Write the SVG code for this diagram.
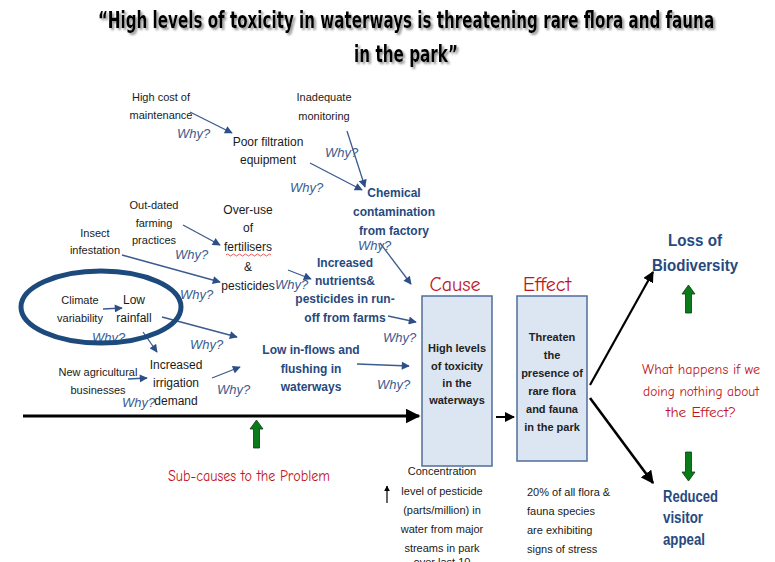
<svg xmlns="http://www.w3.org/2000/svg" width="775" height="562" viewBox="0 0 775 562">
  <style>
    .t { font-family: "Liberation Sans", Arial, sans-serif; font-size: 11px; fill: #1a1a1a; }
    .t13 { font-family: "Liberation Sans", Arial, sans-serif; font-size: 12px; fill: #1a1a1a; }
    .why { font-family: "Liberation Sans", Arial, sans-serif; font-size: 13px; font-style: italic; fill: #3b5b8f; }
    .b { font-family: "Liberation Sans", Arial, sans-serif; font-size: 12px; font-weight: bold; fill: #27497e; }
    .bx { font-family: "Liberation Sans", Arial, sans-serif; font-size: 11px; font-weight: bold; fill: #222; }
    .big { font-family: "Liberation Sans", Arial, sans-serif; font-size: 17px; font-weight: bold; fill: #27497e; }
    .comic { font-family: "Comic Sans MS", "Comic Neue", "DejaVu Sans", sans-serif; }
    .title { font-family: "Comic Sans MS", "DejaVu Sans", sans-serif; font-size: 23px; font-weight: 700; fill: #000; }
    .red { fill: #c0141c; }
    .arr { stroke: #3b5b8f; stroke-width: 1.3; fill: none; marker-end: url(#ab); }
    .blk { stroke: #000; fill: none; marker-end: url(#ak); }
    .box { fill: #dce6f2; stroke: #4f6d99; stroke-width: 1.5; }
    .green { fill: #0a7a1a; stroke: #0b3d0f; stroke-width: 0.8; }
  </style>
  <defs>
    <marker id="ab" viewBox="0 0 10 10" refX="9" refY="5" markerWidth="9" markerHeight="8" markerUnits="userSpaceOnUse" orient="auto">
      <path d="M0,0 L10,5 L0,10 Z" fill="#2d4f86"/>
    </marker>
    <marker id="ak" viewBox="0 0 10 10" refX="9" refY="5" markerWidth="5" markerHeight="5" orient="auto">
      <path d="M0,0 L10,5 L0,10 Z" fill="#000"/>
    </marker>
    <filter id="shadow" filterUnits="userSpaceOnUse" x="0" y="0" width="775" height="80">
      <feDropShadow dx="2" dy="2" stdDeviation="1.2" flood-color="#777" flood-opacity="0.8"/>
    </filter>
  </defs>

  <rect width="775" height="562" fill="#fff"/>

  <!-- heading, narrowed to fit one line -->
  <g id="title" filter="url(#shadow)">
    <text class="title" text-anchor="middle" transform="translate(406,28) scale(0.6,1)" textLength="1027" lengthAdjust="spacingAndGlyphs">“High levels of toxicity in waterways is threatening rare flora and fauna</text>
    <text class="title" text-anchor="middle" transform="translate(406,62) scale(0.6,1)" textLength="173" lengthAdjust="spacingAndGlyphs">in the park”</text>
  </g>

  <!-- connectors -->
  <g id="connectors">
    <line class="arr" x1="190" y1="112" x2="232" y2="133"/>
    <line class="arr" x1="347" y1="131" x2="365" y2="187"/>
    <line class="arr" x1="310" y1="163" x2="362" y2="190"/>
    <line class="arr" x1="380" y1="243" x2="411" y2="284"/>
    <line class="arr" x1="183" y1="225" x2="220" y2="245"/>
    <line class="arr" x1="122" y1="255" x2="220" y2="282"/>
    <line class="arr" x1="288" y1="270" x2="311" y2="279"/>
    <line class="arr" x1="388" y1="316" x2="416" y2="322"/>
    <line class="arr" x1="103" y1="309" x2="122" y2="308"/>
    <line class="arr" x1="162" y1="317" x2="237" y2="337"/>
    <line class="arr" x1="143" y1="332" x2="157" y2="352"/>
    <line class="arr" x1="128" y1="379" x2="147" y2="378"/>
    <line class="arr" x1="212" y1="378" x2="240" y2="367"/>
    <line class="arr" x1="357" y1="364" x2="409" y2="366"/>
    <!-- main spine -->
    <line class="blk" x1="23" y1="416" x2="419" y2="416" stroke-width="3"/>
    <line class="blk" x1="496" y1="417" x2="514" y2="417" stroke-width="2"/>
    <line class="blk" x1="590" y1="385" x2="653" y2="272" stroke-width="2.2"/>
    <line class="blk" x1="590" y1="398" x2="653" y2="483" stroke-width="2.6"/>
    <line class="blk" x1="387" y1="503" x2="387" y2="486" stroke-width="1.2"/>
  </g>

  <!-- why labels -->
  <g id="why-labels" class="why">
    <text x="177" y="138">Why?</text>
    <text x="325" y="157">Why?</text>
    <text x="290" y="192">Why?</text>
    <text x="358" y="250">Why?</text>
    <text x="175" y="259">Why?</text>
    <text x="180" y="299">Why?</text>
    <text x="275" y="289">Why?</text>
    <text x="383" y="342">Why?</text>
    <text x="92" y="342">Why?</text>
    <text x="190" y="349">Why?</text>
    <text x="122" y="407">Why?</text>
    <text x="217" y="394">Why?</text>
    <text x="377" y="389">Why?</text>
  </g>

  <g id="high-cost" class="t" text-anchor="middle">
    <text x="161" y="101">High cost of</text>
    <text x="161" y="119">maintenance</text>
  </g>
  <g id="poor-filtration" class="t13" text-anchor="middle">
    <text x="268" y="146">Poor filtration</text>
    <text x="268" y="164">equipment</text>
  </g>
  <g id="inadequate-monitoring" class="t" text-anchor="middle">
    <text x="324" y="101">Inadequate</text>
    <text x="324" y="120">monitoring</text>
  </g>
  <g id="chemical-contamination" class="b" text-anchor="middle">
    <text x="394" y="197">Chemical</text>
    <text x="394" y="216">contamination</text>
    <text x="394" y="235">from factory</text>
  </g>
  <g id="out-dated" class="t" text-anchor="middle">
    <text x="154" y="209">Out-dated</text>
    <text x="154" y="227">farming</text>
    <text x="154" y="244">practices</text>
  </g>
  <g id="insect" class="t" text-anchor="middle">
    <text x="95" y="237">Insect</text>
    <text x="95" y="254">infestation</text>
  </g>
  <g id="over-use" class="t13" text-anchor="middle">
    <text x="248" y="214">Over-use</text>
    <text x="248" y="232">of</text>
    <text x="248" y="251">fertilisers</text>
    <path d="M226,255 q1.5,-2 3,0 t3,0 t3,0 t3,0 t3,0 t3,0 t3,0 t3,0 t3,0 t3,0 t3,0 t3,0 t3,0 t3,0 t3,0" fill="none" stroke="#e0302c" stroke-width="0.8"/>
    <text x="248" y="271">&amp;</text>
    <text x="248" y="290">pesticides</text>
  </g>
  <g id="increased-nutrients" class="b" text-anchor="middle">
    <text x="345" y="267">Increased</text>
    <text x="345" y="285">nutrients&amp;</text>
    <text x="345" y="303">pesticides in run-</text>
    <text x="345" y="322">off from farms</text>
  </g>

  <!-- highlighted pair -->
  <ellipse id="highlight" cx="101" cy="307" rx="80" ry="36" fill="none" stroke="#1d4a7c" stroke-width="5"/>
  <g id="climate" class="t" text-anchor="middle">
    <text x="80" y="304">Climate</text>
    <text x="80" y="322">variability</text>
  </g>
  <g id="low-rainfall" class="t13" text-anchor="middle">
    <text x="134" y="304">Low</text>
    <text x="134" y="322">rainfall</text>
  </g>
  <g id="new-agri" class="t" text-anchor="middle">
    <text x="98" y="376">New agricultural</text>
    <text x="98" y="394">businesses</text>
  </g>
  <g id="irrigation" class="t13" text-anchor="middle">
    <text x="176" y="369">Increased</text>
    <text x="176" y="387">irrigation</text>
    <text x="176" y="405">demand</text>
  </g>
  <g id="low-inflows" class="b" text-anchor="middle">
    <text x="311" y="354">Low in-flows and</text>
    <text x="311" y="373">flushing in</text>
    <text x="311" y="391">waterways</text>
  </g>

  <!-- cause and effect -->
  <g id="cause">
    <text class="comic red" x="455" y="291" font-size="20" text-anchor="middle">Cause</text>
    <rect class="box" x="422" y="296" width="70" height="170"/>
    <g class="bx" text-anchor="middle">
      <text x="457" y="352">High levels</text>
      <text x="457" y="370">of toxicity</text>
      <text x="457" y="387">in the</text>
      <text x="457" y="404">waterways</text>
    </g>
  </g>
  <g id="effect">
    <text class="comic red" x="547" y="291" font-size="20" text-anchor="middle">Effect</text>
    <rect class="box" x="517" y="296" width="70" height="165"/>
    <g class="bx" text-anchor="middle">
      <text x="552" y="341">Threaten</text>
      <text x="552" y="359">the</text>
      <text x="552" y="377">presence of</text>
      <text x="552" y="395">rare flora</text>
      <text x="552" y="413">and fauna</text>
      <text x="552" y="431">in the park</text>
    </g>
  </g>

  <g id="loss-biodiversity" class="big" text-anchor="middle">
    <text x="695" y="246" textLength="54" lengthAdjust="spacingAndGlyphs">Loss of</text>
    <text x="695" y="271" textLength="86" lengthAdjust="spacingAndGlyphs">Biodiversity</text>
  </g>
  <path id="up-arrow-right" class="green" d="M688.5,285 L695,294 L691.5,294 L691.5,313 L685.5,313 L685.5,294 L682,294 Z"/>
  <g id="what-happens" class="comic red" font-size="14" text-anchor="middle">
    <text x="701" y="374" textLength="118" lengthAdjust="spacingAndGlyphs">What happens if we</text>
    <text x="701" y="396" textLength="116" lengthAdjust="spacingAndGlyphs">doing nothing about</text>
    <text x="701" y="417" textLength="70" lengthAdjust="spacingAndGlyphs">the Effect?</text>
  </g>
  <path id="down-arrow-right" class="green" d="M688.5,481 L695,472 L691.5,472 L691.5,452 L685.5,452 L685.5,472 L682,472 Z"/>
  <g id="reduced-appeal" class="big" font-size="15">
    <text x="663" y="502" font-size="16" textLength="55" lengthAdjust="spacingAndGlyphs">Reduced</text>
    <text x="663" y="523" font-size="16" textLength="40" lengthAdjust="spacingAndGlyphs">visitor</text>
    <text x="663" y="545" font-size="16" textLength="42" lengthAdjust="spacingAndGlyphs">appeal</text>
  </g>

  <path id="up-arrow-left" class="green" d="M256.5,420 L263,429 L259.5,429 L259.5,448 L253.5,448 L253.5,429 L250,429 Z"/>
  <text id="sub-causes" class="comic red" x="249" y="481" font-size="15" text-anchor="middle" textLength="162" lengthAdjust="spacingAndGlyphs">Sub-causes to the Problem</text>

  <g id="concentration" class="t" text-anchor="middle">
    <text x="442" y="475">Concentration</text>
    <text x="442" y="495">level of pesticide</text>
    <text x="442" y="514">(parts/million) in</text>
    <text x="442" y="533">water from major</text>
    <text x="442" y="552">streams in park</text>
    <text x="442" y="566">over last 10</text>
  </g>
  <g id="stress" class="t">
    <text x="527" y="496">20% of all flora &amp;</text>
    <text x="527" y="515">fauna species</text>
    <text x="527" y="534">are exhibiting</text>
    <text x="527" y="553">signs of stress</text>
  </g>
</svg>
